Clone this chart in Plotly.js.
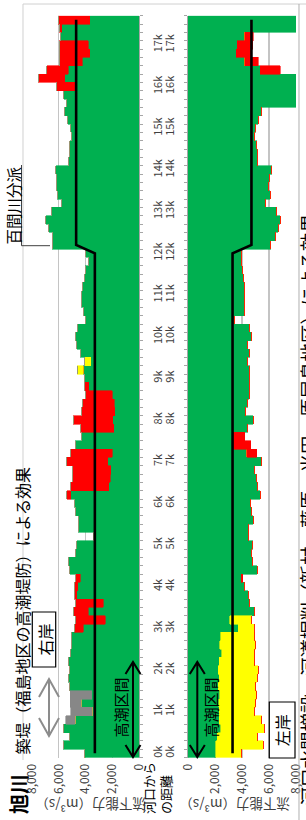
<!DOCTYPE html>
<html><head><meta charset="utf-8">
<script src="https://cdn.plot.ly/plotly-3.0.1.min.js"></script>
<style>html,body{margin:0;padding:0;background:#fff;}#chart{width:306px;height:820px;}</style>
</head><body><div id="chart"></div>
<script>
// distance from river mouth (km), one category per 200 m
const distKm = [0,0.2,0.4,0.6,0.8,1.0,1.2,1.4,1.6,1.8,2.0,2.2,2.4,2.6,2.8,3.0,3.2,3.4,3.6,3.8,
4.0,4.2,4.4,4.6,4.8,5.0,5.2,5.4,5.6,5.8,6.0,6.2,6.4,6.6,6.8,7.0,7.2,7.4,7.6,7.8,
8.0,8.2,8.4,8.6,8.8,9.0,9.2,9.4,9.6,9.8,10.0,10.2,10.4,10.6,10.8,11.0,11.2,11.4,11.6,11.8,
12.0,12.2,12.4,12.6,12.8,13.0,13.2,13.4,13.6,13.8,14.0,14.2,14.4,14.6,14.8,15.0,15.2,15.4,15.6,15.8,
16.0,16.2,16.4,16.6,16.8,17.0,17.2,17.4,17.6];
const distTickVals = [0,1,2,3,4,5,6,7,8,9,10,11,12,13,14,15,16,17];
const distTickText = ["0k","1k","2k","3k","4k","5k","6k","7k","8k","9k","10k","11k","12k","13k","14k","15k","16k","17k"];
const flowTickVals = [0,2000,4000,6000,8000];
const flowTickText = ["0","2,000","4,000","6,000","8,000"];

// 右岸 (right bank) flow capacity, m3/s
const rightGreen = [4040,5660,5160,5660,4780,3480,4300,3540,5230,5285,
5230,5285,5085,5035,5035,4160,2540,3790,2670,4660,
4585,4410,5160,5285,4735,4660,3415,4550,4535,4785,
4835,5085,2245,2145,2095,2345,1995,4785,4335,1870,
1970,1795,1845,1995,3740,4040,4160,3590,4410,4660,
4785,4585,3990,4160,4335,4285,4235,4085,4035,3740,
3990,6480,6480,6730,6955,6530,5830,6105,6155,6155,
6230,5285,5210,5160,5035,5085,5335,5535,5410,5610,
4785,5535,5285,4235,3665,3790,5880,5785,3665];
const rightRed = [0,0,0,0,0,0,0,0,0,0,
0,0,0,0,0,675,2245,1120,2115,200,
275,325,0,0,0,0,0,0,0,0,
0,325,2865,2815,2865,3090,3115,0,0,2540,
2940,2540,2390,2040,300,0,0,0,0,0,
0,0,0,0,0,0,0,0,0,0,
0,0,0,0,0,0,0,0,0,0,
0,0,0,0,0,0,0,0,0,0,
1370,1995,1620,1725,2295,2170,0,175,2365];
const rightYellow = [0,0,0,0,0,0,0,0,0,0,
0,0,0,0,0,0,0,0,0,0,
0,0,0,0,0,0,0,0,0,0,
0,0,0,0,0,0,0,0,0,0,
0,0,0,0,0,0,450,450,0,0,
0,0,0,0,0,0,0,0,0,0,
0,0,0,0,0,0,0,0,0,0,
0,0,0,0,0,0,0,0,0,0,
0,0,0,0,0,0,0,0,0];
const rightGray = [0,0,0,0,680,1620,830,1600,0,0,
0,0,0,0,0,0,0,0,0,0,
0,0,0,0,0,0,0,0,0,0,
0,0,0,0,0,0,0,0,0,0,
0,0,0,0,0,0,0,0,0,0,
0,0,0,0,0,0,0,0,0,0,
0,0,0,0,0,0,0,0,0,0,
0,0,0,0,0,0,0,0,0,0,
0,0,0,0,0,0,0,0,0];

// 左岸 (left bank) flow capacity, m3/s
const leftGreen = [2070,2070,2150,2420,2320,2320,2295,2370,2245,2320,
2245,2320,2495,2370,2420,3730,3110,4890,4590,4470,
4220,3950,5135,4790,4715,4790,4470,4470,4840,4715,
4640,5335,5135,5085,4960,5460,4345,3355,3355,4420,
4840,4295,4420,4520,4545,4590,4590,4395,4590,4420,
4715,4520,3410,4150,4220,4220,4150,4100,4025,3975,
3975,6125,6445,6690,6815,6570,5705,6075,5950,6025,
6200,5160,5135,5085,4960,5035,5210,5460,9000,9000,
9000,9000,5335,4220,3580,3655,4220,9000,9000];
const leftYellow = [1905,3510,2985,3210,3140,2570,2740,2715,2790,2815,
2965,2640,2465,2665,2540,1160,1605,0,0,0,
0,0,0,0,0,0,0,0,0,0,
0,0,0,0,0,0,0,0,0,0,
0,0,0,0,0,0,0,0,0,0,
0,0,0,0,0,0,0,0,0,0,
0,0,0,0,0,0,0,0,0,0,
0,0,0,0,0,0,0,0,0,0,
0,0,0,0,0,0,0,0,0];
const leftRed = [0,0,0,0,0,0,0,0,0,0,
0,0,0,0,0,0,0,0,0,0,
0,120,0,0,0,0,0,0,0,0,
0,0,0,0,0,0,740,1285,865,0,
0,0,0,0,0,0,0,0,0,0,
0,0,0,0,0,0,0,0,0,0,
0,0,0,0,0,0,0,0,0,0,
0,0,0,0,0,0,0,0,0,0,
0,0,1480,990,1070,1125,620,0,0];

// design flow line
const planDist = [0,12.0,12.2,17.6];
const planFlow = [3300,3300,4700,4700];

const GREEN='#00B050', RED='#FF0000', YELLOW='#FFFF00', GRAY='#878787';
const W=306, H=820;
const px = X => X/W, py = Y => 1-Y/H;

function bars(x, color, xa, ya){
  return {type:'bar', orientation:'h', y:distKm, x:x, width:0.2,
    marker:{color:color, line:{width:0.6, color:color}}, xaxis:xa, yaxis:ya, hoverinfo:'skip', showlegend:false};
}
const data = [
  bars(rightGreen, GREEN,'x','y'), bars(rightRed, RED,'x','y'),
  bars(rightYellow, YELLOW,'x','y'), bars(rightGray, GRAY,'x','y'),
  bars(leftGreen, GREEN,'x2','y2'), bars(leftYellow, YELLOW,'x2','y2'), bars(leftRed, RED,'x2','y2'),
  {type:'scatter', mode:'lines', x:planFlow, y:planDist, xaxis:'x', yaxis:'y', line:{color:'#000', width:2.6}, showlegend:false, hoverinfo:'skip'},
  {type:'scatter', mode:'lines', x:planFlow, y:planDist, xaxis:'x2', yaxis:'y2', line:{color:'#000', width:2.6}, showlegend:false, hoverinfo:'skip'}
];

const FONT = '"Noto Sans CJK JP", "Noto Sans", sans-serif';
const ydom = [py(757.5), py(15.7)];
function yax(side, anchor){
  return {domain:ydom, range:[-0.1,17.7], anchor:anchor, side:side, tickmode:'array', tickvals:distTickVals, ticktext:distTickText,
    tickangle:-90, ticks:'', ticklabelstandoff:9, tickfont:{size:11, color:'#404040', family:FONT},
    showline:true, linecolor:'#a6a6a6', linewidth:1, showgrid:false, zeroline:false, automargin:false,
    minor:{tickmode:'linear', tick0:-0.1, dtick:0.2, ticks:'outside', ticklen:3, tickcolor:'#a6a6a6', showgrid:false}};
}
function xax(dom, range, anchor){
  return {domain:dom, range:range, anchor:anchor, tickmode:'array', tickvals:flowTickVals, ticktext:flowTickText,
    tickangle:-90, ticks:'', ticklabelstandoff:3, tickfont:{size:12, color:'#404040', family:FONT},
    showgrid:true, gridcolor:'#c4c4c4', gridwidth:1.3, zeroline:false, showline:false, automargin:false};
}

function arrowPath(X, Y1, Y2, hw, hl){
  return `M ${X} ${Y1} L ${X} ${Y2} M ${X-hw} ${Y1+hl} L ${X} ${Y1} L ${X+hw} ${Y1+hl} M ${X-hw} ${Y2-hl} L ${X} ${Y2} L ${X+hw} ${Y2-hl}`;
}
function toPaperPath(p){
  return p.replace(/(-?\d+(\.\d+)?) (-?\d+(\.\d+)?)/g, (m,a,b,c,d)=> `${(parseFloat(a)/W).toFixed(5)} ${(1-parseFloat(c)/H).toFixed(5)}`);
}
function pshape(p, color, width){
  return {type:'path', xref:'paper', yref:'paper', path:toPaperPath(p), line:{color:color, width:width}};
}
function prect(x0,y0,x1,y1){
  return {type:'rect', xref:'paper', yref:'paper', x0:px(x0), x1:px(x1), y0:py(y1), y1:py(y0), line:{color:'#000', width:1.2}, fillcolor:'#fff'};
}
const shapes = [
  pshape('M 23 4 L 306 4', '#d0d0d0', 1),
  pshape('M 23 4 L 23 760', '#d0d0d0', 1),
  pshape('M 299 4 L 299 820', '#b0b0b0', 1),
  pshape(arrowPath(133, 662, 757, 7.5, 12), '#000', 2),
  pshape(arrowPath(197.3, 662, 757, 7.5, 12), '#000', 2),
  pshape(arrowPath(49, 679, 736, 10, 18), '#8c8c8c', 2),
  pshape('M 21.5 165 L 21.5 245.7 L 50 245.7', '#404040', 1),
  prect(32.3, 612, 55.7, 667),
  prect(269.3, 702, 295, 758)
];

function ann(text, X, Y, size, extra){
  return Object.assign({text:text, xref:'paper', yref:'paper', x:px(X), y:py(Y), showarrow:false,
    textangle:-90, xanchor:'center', yanchor:'middle', font:{family:FONT, size:size, color:'#000'}}, extra||{});
}
const annotations = [
  ann('<b>旭川</b>', 18, 794, 20),
  ann('築堤（福島地区の高潮堤防）による効果', 21.5, 611, 16),
  ann('河口水門増設、河道掘削（新材、藤原、米田、原尾島地区）による効果', 307, 213, 18.5, {yanchor:'top'}),
  ann('河口から<br>の距離', 157, 788, 13, {align:'left'}),
  ann('流下能力（m³/s）', 91, 805, 13.5, {textangle:180, font:{family:FONT, size:13.5, color:'#404040'}}),
  ann('流下能力（m³/s）', 235, 805, 13.5, {textangle:180, font:{family:FONT, size:13.5, color:'#404040'}}),
  ann('右岸', 44, 639.5, 16),
  ann('左岸', 282.2, 730, 16),
  ann('高潮区間', 119.5, 708, 15),
  ann('高潮区間', 209.5, 708, 15),
  ann('百間川分派', 12.5, 206, 15.5)
];

const layout = {
  width:W, height:H, margin:{l:0,r:0,t:0,b:0}, paper_bgcolor:'#fff', plot_bgcolor:'#fff',
  barmode:'stack', bargap:0, showlegend:false,
  font:{family:FONT},
  xaxis: xax([px(32), px(139)], [8000,0], 'y'),
  yaxis: yax('right','x'),
  xaxis2: xax([px(188), px(296)], [0,8000], 'y2'),
  yaxis2: yax('left','x2'),
  shapes:shapes, annotations:annotations
};
Plotly.newPlot('chart', data, layout, {staticPlot:true, displayModeBar:false});
</script></body></html>
